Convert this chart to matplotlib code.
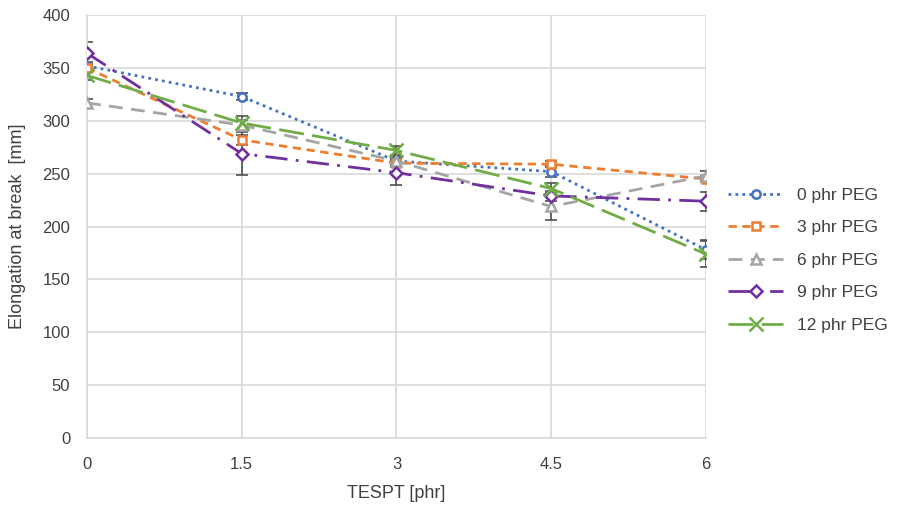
import matplotlib
matplotlib.use("Agg")
import matplotlib.pyplot as plt
import numpy as np

plt.rcParams["font.family"] = ["Liberation Sans", "DejaVu Sans"]

tespt = [0, 1.5, 3, 4.5, 6]
x_ticks = [0, 1.5, 3, 4.5, 6]
x_tick_labels = ["0", "1.5", "3", "4.5", "6"]

labels = ["0 phr PEG", "3 phr PEG", "6 phr PEG", "9 phr PEG", "12 phr PEG"]
peg0 = [352, 323, 262, 252, 178]
peg3 = [350, 282, 260, 259, 245]
peg6 = [317, 296, 262, 219, 248]
peg9 = [364, 269, 251, 229, 224]
peg12 = [343, 298, 272, 236, 174]

err0 = [4, 3, 4, 5, 9]
err3 = [4, 5, 4, 3, 3]
err6 = [4, 5, 6, 13, 5]
err9 = [11, 20, 12, 5, 9]
err12 = [4, 7, 4, 5, 12]

series = [peg0, peg3, peg6, peg9, peg12]
errors = [err0, err3, err6, err9, err12]
colors = ["#4472C4", "#ED7D31", "#A5A5A5", "#7030A0", "#70AD47"]
markers = ["o", "s", "^", "D", "x"]
styles = [(0, (1, 1.5)), (0, (3, 2)), (0, (5, 3)), (0, (8, 3, 1, 3)), (0, (9, 3))]
msizes = [6, 6, 7, 6, 10]

fig = plt.figure(figsize=(8.97, 5.05), dpi=100)
ax = fig.add_axes([0.097, 0.1327, 0.690, 0.8373])

for vals, errs, lab, col, mk, ls, ms in zip(series, errors, labels, colors, markers, styles, msizes):
    ax.errorbar(tespt, vals, yerr=errs, fmt="none", ecolor="#505050",
                elinewidth=1.2, capsize=4, capthick=1.2, zorder=2)
    ax.plot(tespt, vals, color=col, linestyle=ls, linewidth=2,
             marker=mk, markersize=ms, markerfacecolor="white" if mk != "x" else col,
             markeredgecolor=col, markeredgewidth=1.8, label=lab, zorder=3)

ax.set_xlim(0, 6)
ax.set_ylim(0, 400)
ax.set_xticks(x_ticks)
ax.set_xticklabels(x_tick_labels)
ax.set_yticks(np.arange(0, 401, 50))
ax.grid(True, color="#d9d9d9", linewidth=1.2)
ax.set_axisbelow(True)
for side in ["top", "right"]:
    ax.spines[side].set_visible(False)
ax.spines["left"].set_color("#d9d9d9")
ax.spines["bottom"].set_color("#d9d9d9")
ax.spines["left"].set_linewidth(1.2)
ax.spines["bottom"].set_linewidth(1.2)
ax.tick_params(axis="y", length=0, labelsize=12, colors="#404040", pad=12)
ax.tick_params(axis="x", length=0, labelsize=12, colors="#404040", pad=14)
ax.set_xlabel("TESPT [phr]", fontsize=13, color="#404040", labelpad=9)
ax.set_ylabel("Elongation at break  [mm]", fontsize=13, color="#404040", labelpad=12)

ax.legend(loc="center left", bbox_to_anchor=(1.01, 0.42), frameon=False,
          fontsize=12.5, labelcolor="#404040", handlelength=3.2, labelspacing=1.0)

fig.savefig("out.png", dpi=100)
